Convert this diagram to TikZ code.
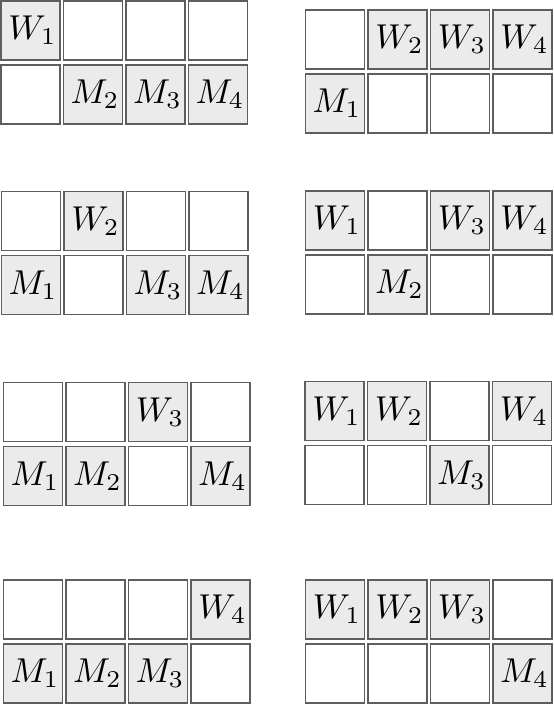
\documentclass[tikz,border=0pt]{standalone}
\usepackage{graphicx}
\definecolor{linegray}{HTML}{5E5E5E}
\definecolor{cellgray}{HTML}{EBEBEB}
\tikzset{
  cell/.style={draw=linegray, line width=1.3pt, minimum size=59pt, inner sep=0pt, fill=white},
  oncell/.style={cell, fill=cellgray}
}
\newcommand\drawgrid[4]{%
  \foreach \c in {1,...,4}{\foreach \r in {1,2}{
    \node[cell] (#1-\c-\r) at ({#2+30+(\c-1)*62.5},{#3+30+(\r-1)*64}) {};}}
  \foreach \c/\r/\t in {#4}{
    \node[oncell] (#1-\c-\r-on) at (#1-\c-\r) {\hspace*{3pt}\scalebox{3.45}{$\t$}\hspace*{-1pt}};}
}
\begin{document}
\begin{tikzpicture}[x=1pt,y=-1pt]
\useasboundingbox (0,0) rectangle (554,705);
\drawgrid{a}{0.5}{0.5}{1/1/W_1,2/2/M_2,3/2/M_3,4/2/M_4}
\drawgrid{b}{305}{9.5}{2/1/W_2,3/1/W_3,4/1/W_4,1/2/M_1}
\drawgrid{c}{1}{191}{2/1/W_2,1/2/M_1,3/2/M_3,4/2/M_4}
\drawgrid{d}{305}{190.5}{1/1/W_1,3/1/W_3,4/1/W_4,2/2/M_2}
\drawgrid{e}{3}{382}{3/1/W_3,1/2/M_1,2/2/M_2,4/2/M_4}
\drawgrid{f}{304.5}{381}{1/1/W_1,2/1/W_2,4/1/W_4,3/2/M_3}
\drawgrid{g}{3}{579.5}{4/1/W_4,1/2/M_1,2/2/M_2,3/2/M_3}
\drawgrid{h}{305}{579.5}{1/1/W_1,2/1/W_2,3/1/W_3,4/2/M_4}
\end{tikzpicture}
\end{document}
